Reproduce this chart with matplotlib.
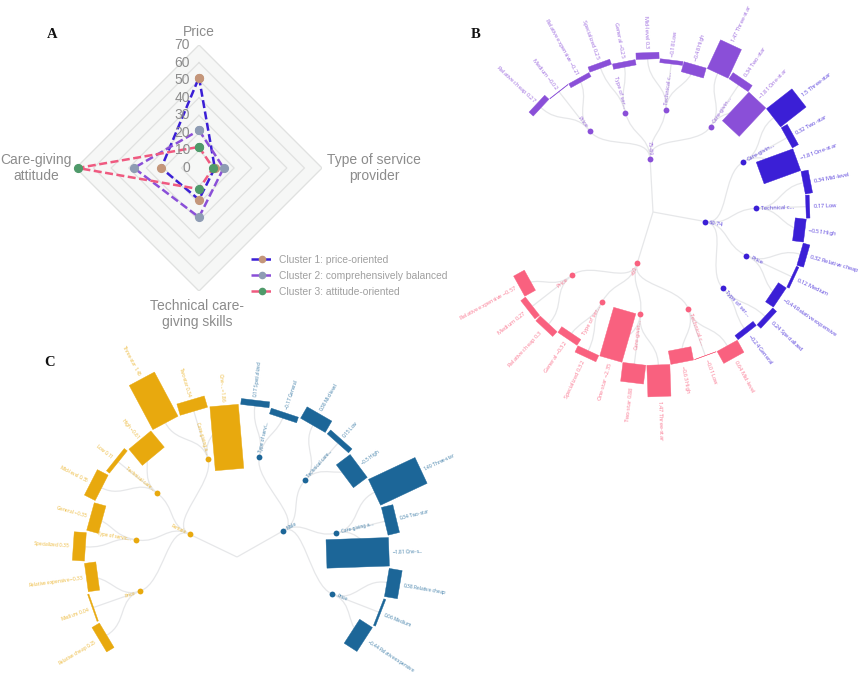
import numpy as np
import matplotlib
matplotlib.use("Agg")
import matplotlib.pyplot as plt
from matplotlib.patches import PathPatch, Polygon
from matplotlib.path import Path

plt.rcParams['font.family'] = ['Noto Sans', 'DejaVu Sans']
plt.rcParams['mathtext.fontset'] = 'custom'
plt.rcParams['mathtext.rm'] = 'Noto Sans'
plt.rcParams['mathtext.bf'] = 'Noto Sans:bold'

W, H = 866, 676

# radar
radar_axes = ["Price", "Type of service\nprovider", "Technical care-\ngiving skills", "Care-giving\nattitude"]
radar_ticks = [0, 10, 20, 30, 40, 50, 60, 70]
cluster1 = [51.5, 9, 18, 21.5]
cluster2 = [21.5, 14, 28, 37]
cluster3 = [12, 8, 12, 69]
cluster_names = ["Cluster 1: price-oriented", "Cluster 2: comprehensively balanced", "Cluster 3: attitude-oriented"]

# panel B, leaves in clockwise order
b_purple_names = ["Relative cheap", "Medium", "Relative expensive", "Specialized", "General", "Mid-level", "Low", "High", "Three-star", "Two-star", "One-star"]
b_purple_values = [0.27, -0.02, -0.21, 0.25, -0.25, 0.3, -0.18, -0.48, 1.47, 0.34, -1.81]
b_blue_names = ["Three-star", "Two-star", "One-star", "Mid-level", "Low", "High", "Relative cheap", "Medium", "Relative expensive", "Specialized", "General"]
b_blue_values = [1.5, 0.32, -1.81, 0.34, 0.17, -0.51, 0.32, 0.12, -0.44, 0.24, -0.24]
b_pink_names = ["Mid-level", "Low", "High", "Three-star", "Two-star", "One-star", "Specialized", "General", "Relative cheap", "Medium", "Relative expensive"]
b_pink_values = [0.64, -0.01, -0.63, 1.47, 0.88, -2.35, 0.32, -0.32, 0.3, 0.27, -0.57]

# panel C
c_orange_names = ["Relative cheap", "Medium", "Relative expensive", "Specialized", "General", "Mid-level", "Low", "High", "Three-star", "Two-star", "One-..."]
c_orange_values = [0.25, 0.04, -0.33, 0.35, -0.35, 0.35, 0.11, -0.61, 1.45, 0.34, -1.86]
c_blue_names = ["Specialized", "General", "Mid-level", "Low", "High", "Three-star", "Two-star", "One-s...", "Relative cheap", "Medium", "Relative expensive"]
c_blue_values = [0.17, -0.17, 0.38, 0.15, -0.5, 1.49, 0.34, -1.81, 0.38, 0.06, -0.44]

# attribute groups of each branch (name, number of leaves)
b_purple_groups = [("Price", 3), ("Type of ser...", 2), ("Technical c...", 3), ("Care-givin...", 3)]
b_blue_groups = [("Care-givin...", 3), ("Technical c...", 3), ("Price", 3), ("Type of ser...", 2)]
b_pink_groups = [("Technical c...", 3), ("Care-givin...", 3), ("Type of ser...", 2), ("Price", 3)]
c_orange_groups = [("Price", 3), ("Type of servic...", 2), ("Technical care...", 3), ("Care-giving a...", 3)]
c_blue_groups = [("Type of servi...", 2), ("Technical care...", 3), ("Care-giving a...", 3), ("Price", 3)]

PURPLE = "#8a4fd8"
BLUE = "#3b1fd6"
PINK = "#f9617f"
ORANGE = "#e8a90e"
STEEL = "#1c6698"
LINK = "#e6e7e9"


def xy(deg, r):
    a = np.radians(deg)
    return np.array([r*np.cos(a), r*np.sin(a)])


def panel_axes(fig, cx, cy, R):
    ax = fig.add_axes([(cx-R)/W, 1-(cy+R)/H, 2*R/W, 2*R/H])
    ax.set_xlim(-R, R)
    ax.set_ylim(-R, R)
    ax.axis('off')
    ax.patch.set_alpha(0)
    return ax


def link(ax, a0, r0, a1, r1, straight=False):
    mid = (r0+r1)/2
    if straight:
        verts = [xy(a0, r0), xy(a1, r1)]
        codes = [Path.MOVETO, Path.LINETO]
    else:
        verts = [xy(a0, r0), xy(a0, mid), xy(a1, mid), xy(a1, r1)]
        codes = [Path.MOVETO, Path.CURVE4, Path.CURVE4, Path.CURVE4]
    ax.add_patch(PathPatch(Path(verts, codes), fc='none', ec=LINK, lw=0.9, zorder=1))


def radial_text(ax, deg, r, txt, color, size):
    d = (deg+180) % 360 - 180
    if -90 <= d <= 90:
        rot, ha = d, 'left'
    else:
        rot, ha = d-180 if d > 0 else d+180, 'right'
    x, y = xy(deg, r)
    ax.text(x, y, txt, color=color, fontsize=size, rotation=rot, ha=ha, va='center',
            rotation_mode='anchor', alpha=0.8, zorder=5)


def leaf_text(deg, name, val):
    d = (deg+180) % 360 - 180
    s = f"$\\mathbf{{{val:g}}}$"
    if -90 <= d <= 90:
        return s + " " + name
    return name + " " + s


def draw_branch(ax, angles, names, values, groups, title, color, r_ring, k, width, size):
    # angles of parents are the mean of their children, as in a cluster layout
    i = 0
    group_angles = []
    for gname, n in groups:
        ang = angles[i:i+n]
        ga = np.mean(ang)
        group_angles.append(ga)
        for a, nm, v in zip(ang, names[i:i+n], values[i:i+n]):
            link(ax, ga, 103*r_ring/153, a, r_ring)
            ax.add_patch(Polygon([xy(a, r_ring) + xy(a-90, width/2), xy(a, r_ring) + xy(a+90, width/2),
                                  xy(a, r_ring+k*v) + xy(a+90, width/2), xy(a, r_ring+k*v) + xy(a-90, width/2)],
                                 fc=color, ec=color, lw=0.3, zorder=3))
            radial_text(ax, a, r_ring+max(v, 0)*k+3, leaf_text(a, nm, v), color, size)
        i += n
    top = np.mean(group_angles)
    r1 = 53*r_ring/153
    r2 = 103*r_ring/153
    link(ax, top, r1, top, 0, straight=True)
    px, py = xy(top, r1)
    ax.plot(px, py, 'o', color=color, ms=4.2, mec='none', zorder=4)
    radial_text(ax, top, r1+4, title, color, size)
    for (gname, n), ga in zip(groups, group_angles):
        link(ax, top, r1, ga, r2)
        gx, gy = xy(ga, r2)
        ax.plot(gx, gy, 'o', color=color, ms=4.2, mec='none', zorder=4)
        radial_text(ax, ga, r2+5, gname, color, size)


fig = plt.figure(figsize=(W/100, H/100), dpi=100)

# A: radar
cx, cy, R = 199, 168, 123
ax_a = fig.add_axes([(cx-R)/W, 1-(cy+R)/H, 2*R/W, 2*R/H], projection='polar')
ax_a.set_axis_off()
ax_a.set_ylim(0, 70)
spokes = np.radians([90, 0, 270, 180, 90])
ax_a.fill(spokes, [70]*5, color="#f6f7f6", zorder=0)
for v in radar_ticks[1:]:
    ax_a.plot(spokes, [v]*5, color="#e0e1e0", lw=0.9, zorder=1)
series = [cluster1, cluster2, cluster3]
line_cols = [BLUE, PURPLE, "#ef5a80"]
mark_cols = ["#c4967a", "#8e9cb4", "#4f9a6a"]
handles = []
for s, lc, mc, nm in zip(series, line_cols, mark_cols, cluster_names):
    ln, = ax_a.plot(spokes, s+[s[0]], color=lc, lw=1.8, dashes=(3.2, 1.4), marker='o', ms=5.6,
                    mfc=mc, mec=mc, label=nm, zorder=3, clip_on=False)
    handles.append(ln)
for v in radar_ticks:
    fig.text(190/W, 1-(cy-v*R/70)/H, str(v), color="#8c8c8c", fontsize=10, ha='right', va='center',
             family=['Liberation Sans'])
label_pos = [(199, 32), (374, 168), (197, 314), (36, 168)]
for t, (lx, ly) in zip(radar_axes, label_pos):
    fig.text(lx/W, 1-ly/H, t, color="#8c8c8c", fontsize=10, ha='center', va='center',
             family=['Liberation Sans'], linespacing=1.1)
fig.legend(handles=handles, loc='upper left', bbox_to_anchor=(251/W, 1-255/H), frameon=False,
           labelcolor="#a0a0a0", handlelength=2.2, handletextpad=0.5, labelspacing=0.56, borderpad=0,
           markerscale=0.8, borderaxespad=0, prop={'family': 'Liberation Sans', 'size': 7.4})

# B
ax_b = panel_axes(fig, 653, 212, 212)
angles_b = 137 - 9*np.arange(33)
draw_branch(ax_b, angles_b[:11], b_purple_names, b_purple_values, b_purple_groups, "75-89", PURPLE, 153, 21.5, 23, 4)
draw_branch(ax_b, angles_b[11:22], b_blue_names, b_blue_values, b_blue_groups, "60-74", BLUE, 153, 21.5, 23, 4)
draw_branch(ax_b, angles_b[22:], b_pink_names, b_pink_values, b_pink_groups, "<60", PINK, 153, 21.5, 23, 4)

# C
ax_c = panel_axes(fig, 237, 557, 230)
angles_c = 211 - 360/31*np.arange(22)
draw_branch(ax_c, angles_c[:11], c_orange_names, c_orange_values, c_orange_groups, "Female", ORANGE, 152, 34.5, 28.5, 3.4)
draw_branch(ax_c, angles_c[11:], c_blue_names, c_blue_values, c_blue_groups, "Male", STEEL, 152, 34.5, 28.5, 3.4)

for letter, lx, ly in [("A", 52, 35), ("B", 476, 35), ("C", 50, 363)]:
    fig.text(lx/W, 1-ly/H, letter, fontsize=10.5, fontweight='bold', ha='center', va='center',
             family=['Liberation Serif'], color="#111111")

fig.savefig("out.png", dpi=100)
